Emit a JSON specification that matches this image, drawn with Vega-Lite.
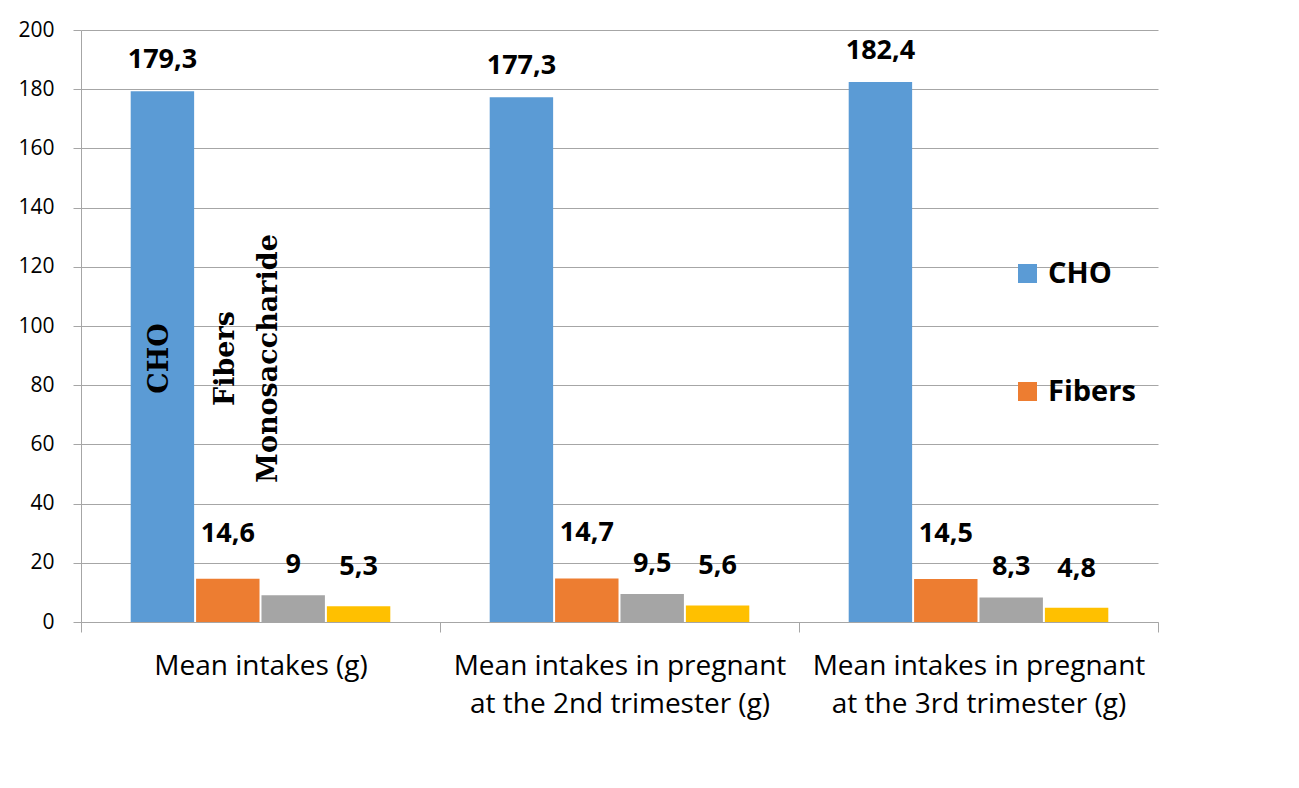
{
  "$schema": "https://vega.github.io/schema/vega-lite/v6.json",
  "width": 1077,
  "height": 592,
  "autosize": "none",
  "padding": {"left": 81, "top": 30, "right": 141, "bottom": 166},
  "background": "white",
  "config": {
    "view": {"stroke": null},
    "font": "Open Sans",
    "locale": {
      "number": {"decimal": ",", "thousands": ".", "grouping": [3], "currency": ["", ""]}
    }
  },
  "data": {
    "values": [
      {"group": "Mean intakes (g)", "series": "CHO", "value": 179.3},
      {"group": "Mean intakes (g)", "series": "Fibers", "value": 14.6},
      {"group": "Mean intakes (g)", "series": "Monosaccharide", "value": 9},
      {"group": "Mean intakes (g)", "series": "Disaccharide", "value": 5.3},
      {"group": "Mean intakes in pregnant at the 2nd trimester (g)", "series": "CHO", "value": 177.3},
      {"group": "Mean intakes in pregnant at the 2nd trimester (g)", "series": "Fibers", "value": 14.7},
      {"group": "Mean intakes in pregnant at the 2nd trimester (g)", "series": "Monosaccharide", "value": 9.5},
      {"group": "Mean intakes in pregnant at the 2nd trimester (g)", "series": "Disaccharide", "value": 5.6},
      {"group": "Mean intakes in pregnant at the 3rd trimester (g)", "series": "CHO", "value": 182.4},
      {"group": "Mean intakes in pregnant at the 3rd trimester (g)", "series": "Fibers", "value": 14.5},
      {"group": "Mean intakes in pregnant at the 3rd trimester (g)", "series": "Monosaccharide", "value": 8.3},
      {"group": "Mean intakes in pregnant at the 3rd trimester (g)", "series": "Disaccharide", "value": 4.8}
    ]
  },
  "encoding": {
    "x": {
      "field": "group",
      "type": "nominal",
      "sort": null,
      "scale": {"paddingInner": 0, "paddingOuter": 0},
      "axis": {
        "title": null,
        "labelAngle": 0,
        "labelFontSize": 28,
        "labelColor": "#000000",
        "labelLineHeight": 38,
        "labelPadding": 20,
        "labelBaseline": "top",
        "labelLimit": 0,
        "labelExpr": "indexof(datum.label, ' at ') > 0 ? [substring(datum.label, 0, indexof(datum.label, ' at ')), substring(datum.label, indexof(datum.label, ' at ') + 1)] : datum.label",
        "tickBand": "extent",
        "tickSize": 10,
        "tickColor": "#a6a6a6",
        "domainColor": "#a6a6a6",
        "grid": false
      }
    },
    "xOffset": {
      "field": "series",
      "sort": ["CHO", "Fibers", "Monosaccharide", "Disaccharide"],
      "scale": {"paddingInner": 0.03, "paddingOuter": 0.76}
    }
  },
  "layer": [
    {
      "mark": {"type": "bar"},
      "encoding": {
        "y": {
          "field": "value",
          "type": "quantitative",
          "scale": {"domain": [0, 200], "nice": false},
          "axis": {
            "title": null,
            "values": [0, 20, 40, 60, 80, 100, 120, 140, 160, 180, 200],
            "grid": true,
            "gridColor": "#a6a6a6",
            "domainColor": "#a6a6a6",
            "tickColor": "#a6a6a6",
            "tickSize": 8,
            "labelFontSize": 21,
            "labelColor": "#000000",
            "labelPadding": 19
          }
        },
        "color": {
          "field": "series",
          "type": "nominal",
          "scale": {
            "domain": ["CHO", "Fibers", "Monosaccharide", "Disaccharide"],
            "range": ["#5B9BD5", "#ED7D31", "#A5A5A5", "#FFC000"]
          },
          "legend": {
            "orient": "none",
            "legendX": 932,
            "legendY": 229,
            "title": null,
            "values": ["CHO", "Fibers"],
            "symbolType": "square",
            "symbolSize": 361,
            "symbolStrokeWidth": 0,
            "labelFontSize": 29,
            "labelFontWeight": "bold",
            "labelColor": "#000000",
            "labelOffset": 6,
            "rowPadding": 88,
            "padding": 0
          }
        }
      }
    },
    {
      "transform": [{"filter": "datum.series === 'CHO'"}],
      "mark": {"type": "text", "fontWeight": "bold", "fontSize": 27, "baseline": "middle", "dy": -31, "color": "#000000"},
      "encoding": {
        "y": {"field": "value", "type": "quantitative"},
        "text": {"field": "value", "type": "quantitative", "format": ".1~f"}
      }
    },
    {
      "transform": [{"filter": "datum.series === 'Fibers'"}],
      "mark": {"type": "text", "fontWeight": "bold", "fontSize": 27, "baseline": "middle", "dy": -45, "color": "#000000"},
      "encoding": {
        "y": {"field": "value", "type": "quantitative"},
        "text": {"field": "value", "type": "quantitative", "format": ".1~f"}
      }
    },
    {
      "transform": [{"filter": "datum.series === 'Monosaccharide'"}],
      "mark": {"type": "text", "fontWeight": "bold", "fontSize": 27, "baseline": "middle", "dy": -30, "color": "#000000"},
      "encoding": {
        "y": {"field": "value", "type": "quantitative"},
        "text": {"field": "value", "type": "quantitative", "format": ".1~f"}
      }
    },
    {
      "transform": [{"filter": "datum.series === 'Disaccharide'"}],
      "mark": {"type": "text", "fontWeight": "bold", "fontSize": 27, "baseline": "middle", "dy": -39, "color": "#000000"},
      "encoding": {
        "y": {"field": "value", "type": "quantitative"},
        "text": {"field": "value", "type": "quantitative", "format": ".1~f"}
      }
    },
    {
      "data": {"values": [{"series": "CHO", "note": "CHO"}, {"series": "Fibers", "note": "Fibers"}]},
      "mark": {"type": "text", "font": "DejaVu Serif", "fontWeight": "bold", "fontSize": 27, "angle": 270, "baseline": "middle", "align": "center", "dy": -2, "color": "#000000"},
      "encoding": {
        "x": {"datum": "Mean intakes (g)"},
        "xOffset": {"field": "series"},
        "y": {"datum": 89},
        "text": {"field": "note"}
      }
    },
    {
      "data": {"values": [{"series": "Monosaccharide", "note": "Monosaccharide"}]},
      "mark": {"type": "text", "font": "DejaVu Serif", "fontWeight": "bold", "fontSize": 27, "angle": 270, "baseline": "middle", "align": "center", "dy": -24, "color": "#000000"},
      "encoding": {
        "x": {"datum": "Mean intakes (g)"},
        "xOffset": {"field": "series"},
        "y": {"datum": 89},
        "text": {"field": "note"}
      }
    }
  ]
}
